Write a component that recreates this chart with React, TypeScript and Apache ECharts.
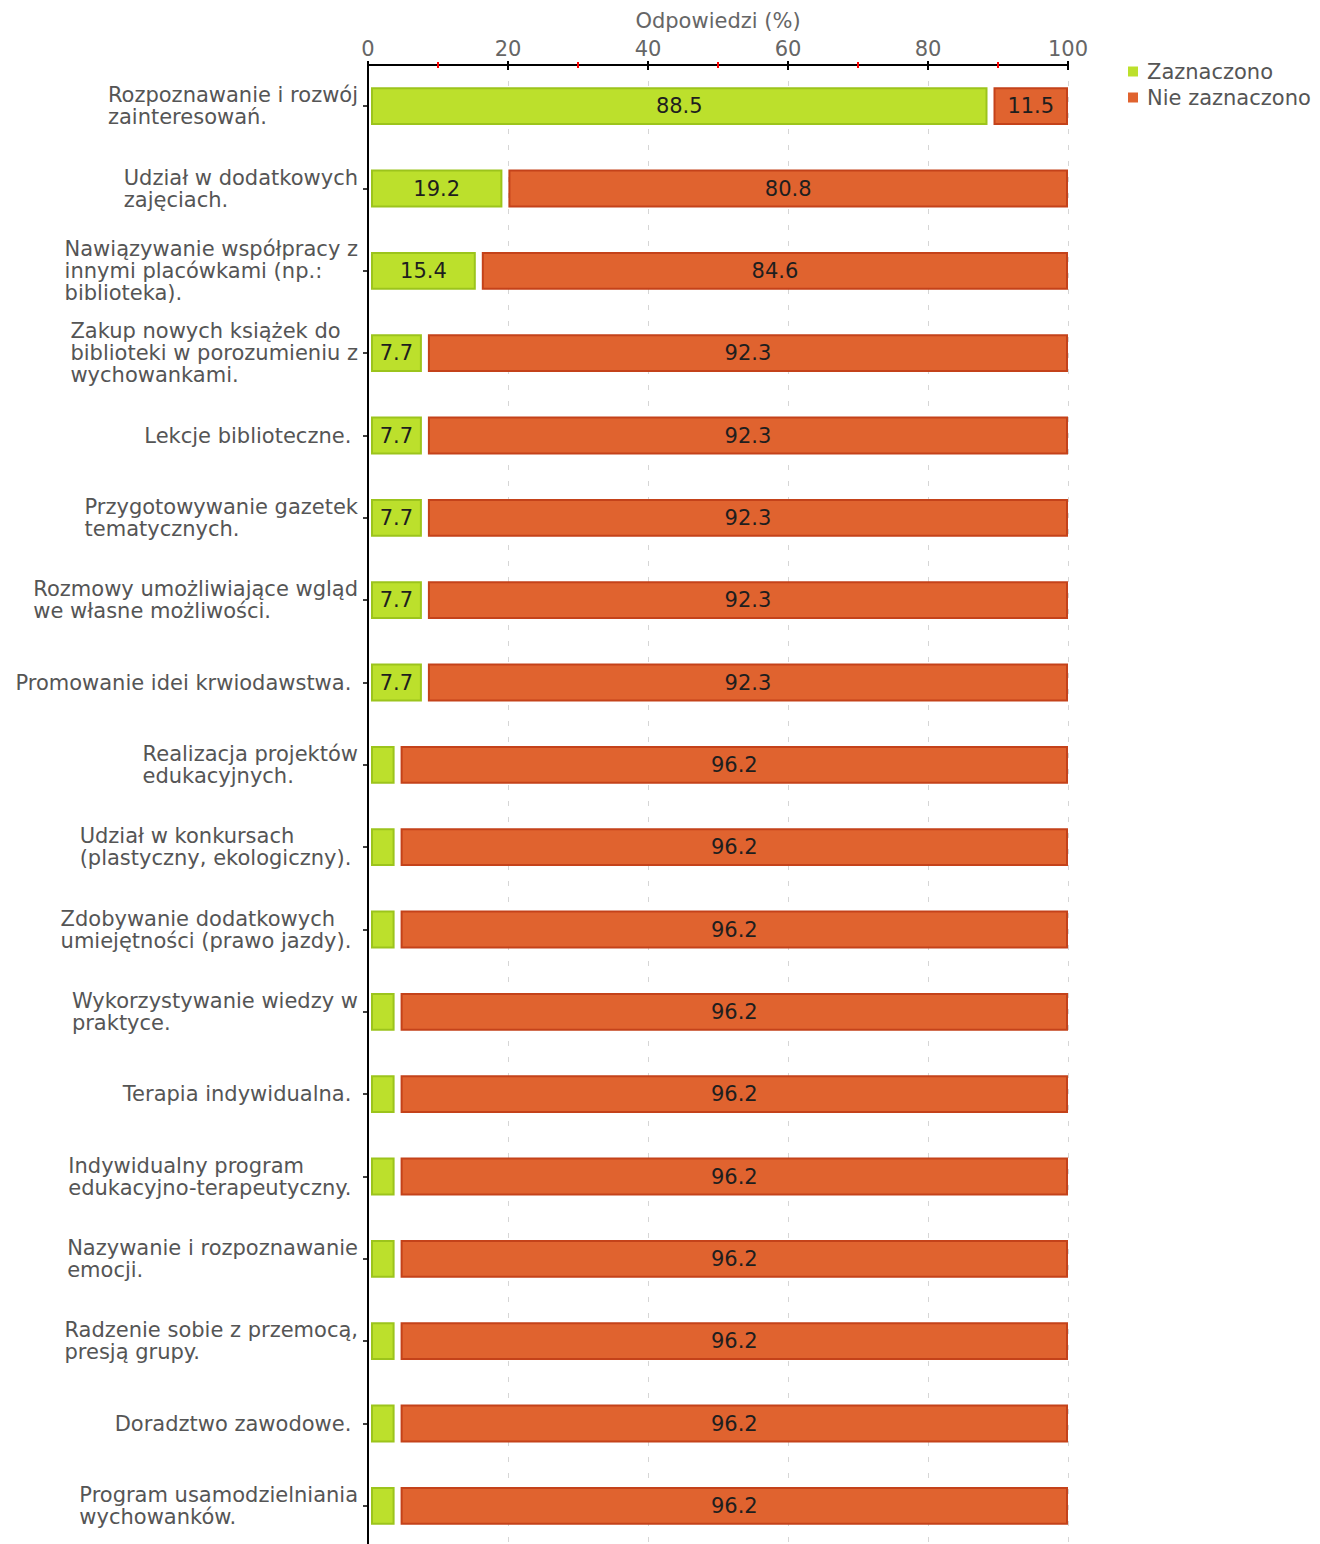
import React, { useEffect, useRef } from "react";
import * as echarts from "echarts";

const categories: string[] = [
  "Rozpoznawanie i rozwój\nzainteresowań.",
  "Udział w dodatkowych\nzajęciach.",
  "Nawiązywanie współpracy z\ninnymi placówkami (np.:\nbiblioteka).",
  "Zakup nowych książek do\nbiblioteki w porozumieniu z\nwychowankami.",
  "Lekcje biblioteczne.",
  "Przygotowywanie gazetek\ntematycznych.",
  "Rozmowy umożliwiające wgląd\nwe własne możliwości.",
  "Promowanie idei krwiodawstwa.",
  "Realizacja projektów\nedukacyjnych.",
  "Udział w konkursach\n(plastyczny, ekologiczny).",
  "Zdobywanie dodatkowych\numiejętności (prawo jazdy).",
  "Wykorzystywanie wiedzy w\npraktyce.",
  "Terapia indywidualna.",
  "Indywidualny program\nedukacyjno-terapeutyczny.",
  "Nazywanie i rozpoznawanie\nemocji.",
  "Radzenie sobie z przemocą,\npresją grupy.",
  "Doradztwo zawodowe.",
  "Program usamodzielniania\nwychowanków.",
];

const zaznaczono: number[] = [88.5, 19.2, 15.4, 7.7, 7.7, 7.7, 7.7, 7.7, 3.8, 3.8, 3.8, 3.8, 3.8, 3.8, 3.8, 3.8, 3.8, 3.8];
const nieZaznaczono: number[] = [11.5, 80.8, 84.6, 92.3, 92.3, 92.3, 92.3, 92.3, 96.2, 96.2, 96.2, 96.2, 96.2, 96.2, 96.2, 96.2, 96.2, 96.2];

const seriesNames = ["Zaznaczono", "Nie zaznaczono"];
const xTicks = { min: 0, max: 100, interval: 20 };

const FONT = "DejaVu Sans, Verdana, sans-serif";
const FS = 21;

export default function App() {
  const ref = useRef<HTMLDivElement>(null);

  useEffect(() => {
    if (!ref.current) return;
    const chart = echarts.init(ref.current, undefined, { renderer: "svg" });

    const greenData = zaznaczono.map((v, i) => [i, 0, v, v]);
    const redData = nieZaznaczono.map((v, i) => [i, zaznaczono[i], zaznaczono[i] + v, v]);

    const makeRender = (fill: string, stroke: string) => (params: any, api: any) => {
      const cat = api.value(0);
      const start = api.value(1);
      const end = api.value(2);
      const val = api.value(3);
      const p0 = api.coord([start, cat]);
      const p1 = api.coord([end, cat]);
      const band = api.size([0, 1])[1];
      const h = band * 0.46;
      const x0 = p0[0] + (start === 0 ? 3 : 6);
      const x1 = p1[0];
      const y0 = p0[1] - h / 2;
      const children: any[] = [
        {
          type: "rect",
          shape: { x: x0 + 1, y: y0 + 1, width: Math.max(x1 - x0 - 2, 0), height: h - 2 },
          style: { fill, stroke, lineWidth: 2 },
        },
      ];
      if (val >= 5) {
        children.push({
          type: "text",
          x: (x0 + x1) / 2,
          y: p0[1],
          style: {
            text: String(val),
            fill: "#1e1e1e",
            font: `${FS}px ${FONT}`,
            align: "center",
            verticalAlign: "middle",
          },
        });
      }
      return { type: "group", children };
    };

    const axisCommon = {
      type: "value",
      position: "top",
      min: xTicks.min,
      max: xTicks.max,
      interval: xTicks.interval,
    };

    chart.setOption({
      animation: false,
      legend: {
        orient: "vertical",
        left: 1123,
        top: 56,
        itemWidth: 10,
        itemHeight: 10,
        itemGap: 5,
        icon: "rect",
        data: seriesNames,
        textStyle: { fontFamily: FONT, fontSize: FS, color: "#555", padding: [0, 0, 0, 4] },
      },
      grid: { left: 368, right: 252, top: 65, bottom: -3, containLabel: false, outerBoundsMode: "none" },
      xAxis: [
        {
          ...axisCommon,
          name: "Odpowiedzi (%)",
          nameLocation: "middle",
          nameGap: 34,
          nameTextStyle: { fontFamily: FONT, fontSize: FS, color: "#666" },
          axisLine: { show: true, lineStyle: { color: "#000", width: 2 } },
          axisTick: { show: true, inside: true, length: 5, lineStyle: { color: "#000", width: 2 } },
          minorTick: { show: true, splitNumber: 2, length: 3, lineStyle: { color: "#ff0000", width: 2 } },
          axisLabel: { fontFamily: FONT, fontSize: FS, color: "#666", margin: 6 },
          splitLine: { show: true, lineStyle: { color: "#d6d6d6", type: [5, 11], width: 1 } },
        },
        {
          ...axisCommon,
          axisLine: { show: false },
          axisTick: { show: true, inside: false, length: 4, lineStyle: { color: "#000", width: 2 } },
          minorTick: { show: true, splitNumber: 2, length: 3, lineStyle: { color: "#ff0000", width: 2 } },
          axisLabel: { show: false },
          splitLine: { show: false },
        },
      ],
      yAxis: {
        type: "category",
        inverse: true,
        data: categories,
        axisLine: { show: true, lineStyle: { color: "#000", width: 2 } },
        axisTick: { show: true, alignWithLabel: true, length: 5, lineStyle: { color: "#000", width: 1.5 } },
        splitLine: { show: false },
        axisLabel: {
          margin: 10,
          lineHeight: 22,
          formatter: (v: string) =>
            v
              .split("\n")
              .map((l, i, arr) => `{a|${l}${i === arr.length - 1 ? " " : ""}}`)
              .join("\n"),
          rich: {
            a: { align: "left", fontFamily: FONT, fontSize: FS, lineHeight: 22, color: "#555" },
          },
        },
      },
      series: [
        {
          name: seriesNames[0],
          type: "custom",
          xAxisIndex: 0,
          renderItem: makeRender("#bce02c", "#9cc41c"),
          itemStyle: { color: "#bce02c" },
          encode: { x: [1, 2], y: 0 },
          data: greenData,
        },
        {
          name: seriesNames[1],
          type: "custom",
          xAxisIndex: 0,
          renderItem: makeRender("#e0632f", "#c4421a"),
          itemStyle: { color: "#e0632f" },
          encode: { x: [1, 2], y: 0 },
          data: redData,
        },
      ],
    });

    return () => chart.dispose();
  }, []);

  return (
    <div
      ref={ref}
      style={{ position: "absolute", left: 0, top: 0, width: 1320, height: 1544 }}
    />
  );
}
